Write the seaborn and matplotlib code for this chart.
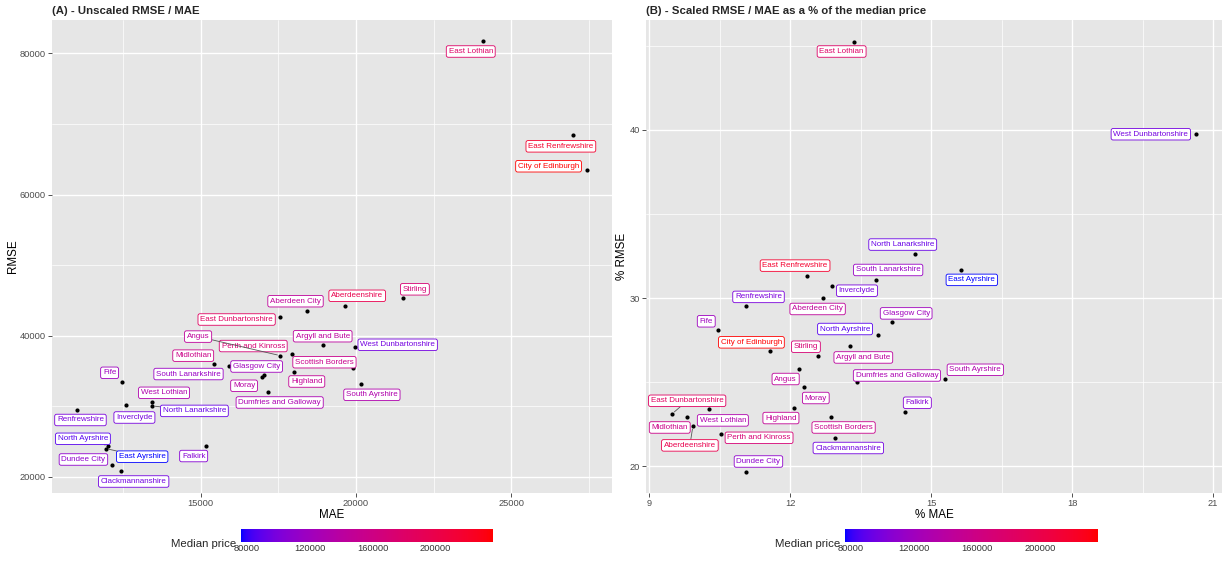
import numpy as np
import pandas as pd
import matplotlib
matplotlib.use("Agg")
import matplotlib.pyplot as plt
import seaborn as sns
from matplotlib.colors import ListedColormap, Normalize
from matplotlib.cm import ScalarMappable

# values
areas = ["East Lothian", "East Renfrewshire", "City of Edinburgh", "Stirling", "Aberdeenshire",
         "Aberdeen City", "East Dunbartonshire", "Argyll and Bute", "West Dunbartonshire",
         "Perth and Kinross", "Angus", "Midlothian", "South Lanarkshire", "Glasgow City", "Moray",
         "Scottish Borders", "Highland", "Fife", "South Ayrshire", "Dumfries and Galloway",
         "West Lothian", "Inverclyde", "North Lanarkshire", "Renfrewshire", "Falkirk",
         "North Ayrshire", "East Ayrshire", "Dundee City", "Clackmannanshire"]
mae = [24080, 26980, 27420, 21510, 19655, 18410, 17545, 18930, 19960,
       17950, 17560, 15440, 15900, 17030, 16980,
       19920, 18000, 12460, 20160, 17160,
       13440, 12615, 13450, 11040, 15165,
       12020, 11965, 12165, 12430]
rmse = [81700, 68400, 63450, 45300, 44240, 43470, 42720, 38650, 38430,
        37400, 37180, 36040, 35700, 34360, 34180,
        35390, 34925, 33465, 33180, 31950,
        30630, 30106, 30050, 29470, 24360,
        24394, 23990, 21602, 20751]
pct_mae = [13.35, 12.36, 11.58, 12.59, 9.93, 12.69, 9.49, 13.28, 20.63,
           10.53, 12.18, 9.80, 13.83, 14.17, 12.29,
           12.86, 12.08, 10.47, 15.30, 13.42,
           10.27, 12.89, 14.65, 11.05, 14.45,
           13.87, 15.63, 11.07, 12.96]
pct_rmse = [45.25, 31.34, 26.84, 26.58, 22.38, 30.01, 23.13, 27.13, 39.74,
            21.94, 25.79, 22.91, 31.08, 28.56, 24.72,
            22.91, 23.47, 28.09, 25.21, 24.99,
            23.39, 30.74, 32.65, 29.54, 23.25,
            27.81, 31.68, 19.70, 21.69]
median_price = [180500, 218300, 236700, 170700, 198000, 145000, 184900, 142500, 96800,
                170400, 144200, 157400, 114900, 120200, 138200,
                154700, 148900, 119100, 131700, 127900,
                130900, 97900, 92000, 99900, 104900,
                87200, 76300, 109800, 95800]

# label placement (pixel offsets from the point, y pointing down)
offsets_a = {
    "East Lothian": (-12, 10), "East Renfrewshire": (-12, 11), "City of Edinburgh": (-38, -4),
    "Stirling": (12, -9), "Aberdeenshire": (12, -10), "Aberdeen City": (-11, -10),
    "East Dunbartonshire": (-43, 3), "Argyll and Bute": (0, -9), "West Dunbartonshire": (43, -2),
    "Perth and Kinross": (-39, -8), "Angus": (-82, -19), "Midlothian": (-21, -8),
    "South Lanarkshire": (-40, 8), "Glasgow City": (-7, -9), "Moray": (-18, 9),
    "Scottish Borders": (-29, -6), "Highland": (13, 10), "Fife": (-12, -9),
    "South Ayrshire": (11, 11), "Dumfries and Galloway": (12, 10), "West Lothian": (12, -9),
    "Inverclyde": (8, 12), "North Lanarkshire": (42, 5), "Renfrewshire": (3, 10),
    "Falkirk": (-12, 10), "North Ayrshire": (-25, -7), "East Ayrshire": (36, 8),
    "Dundee City": (-29, -6), "Clackmannanshire": (13, 10)}
offsets_b = {
    "East Lothian": (-12, 10), "West Dunbartonshire": (-45, 0), "North Lanarkshire": (-12, -9),
    "East Ayrshire": (11, 10), "East Renfrewshire": (-12, -10), "South Lanarkshire": (12, -10),
    "Inverclyde": (25, 5), "Aberdeen City": (-5, 11), "Renfrewshire": (13, -9),
    "Glasgow City": (14, -9), "Fife": (-12, -9), "North Ayrshire": (-33, -6),
    "Argyll and Bute": (13, 11), "City of Edinburgh": (-19, -9), "Stirling": (-12, -9),
    "Angus": (-13, 10), "Dumfries and Galloway": (40, -7), "South Ayrshire": (30, -9),
    "Moray": (12, 11), "Falkirk": (12, -9), "Highland": (-13, 10), "West Lothian": (14, 11),
    "East Dunbartonshire": (15, -13), "Midlothian": (-17, 10), "Scottish Borders": (13, 10),
    "Aberdeenshire": (-3, 19), "Perth and Kinross": (38, 4), "Clackmannanshire": (13, 10),
    "Dundee City": (12, -10)}
segments_a = {"Angus", "North Lanarkshire", "North Ayrshire", "East Ayrshire"}
segments_b = {"East Dunbartonshire", "Aberdeenshire"}


# ggplot-like blue -> red gradient, interpolated in Lab space
M = np.array([[0.4124, 0.3576, 0.1805], [0.2126, 0.7152, 0.0722], [0.0193, 0.1192, 0.9505]])
WHITE = np.array([0.95047, 1.0, 1.08883])


def to_lab(rgb):
    c = np.asarray(rgb, float)
    lin = np.where(c <= 0.04045, c / 12.92, ((c + 0.055) / 1.055) ** 2.4)
    xyz = M @ lin / WHITE
    f = np.where(xyz > 0.008856, np.cbrt(xyz), 7.787 * xyz + 16 / 116)
    return np.array([116 * f[1] - 16, 500 * (f[0] - f[1]), 200 * (f[1] - f[2])])


def from_lab(lab):
    L, a, b = lab
    fy = (L + 16) / 116
    f = np.array([fy + a / 500, fy, fy - b / 200])
    xyz = np.where(f ** 3 > 0.008856, f ** 3, (f - 16 / 116) / 7.787) * WHITE
    lin = np.clip(np.linalg.inv(M) @ xyz, 0, 1)
    c = np.where(lin <= 0.0031308, 12.92 * lin, 1.055 * lin ** (1 / 2.4) - 0.055)
    return np.clip(c, 0, 1)


lo, hi = to_lab([0, 0, 1]), to_lab([1, 0, 0])
cmap = ListedColormap([from_lab(lo + t * (hi - lo)) for t in np.linspace(0, 1, 256)])
norm = Normalize(min(median_price), max(median_price))

sns.set_theme(style="darkgrid", rc={"axes.facecolor": "#E6E6E6", "grid.color": "white"})
plt.rcParams["font.family"] = ["Liberation Sans", "DejaVu Sans"]

fig = plt.figure(figsize=(12.27, 5.61), dpi=100)
W, H = 1227, 561


def panel_axes(x0, x1, y0=20, y1=493):
    return fig.add_axes([x0 / W, 1 - y1 / H, (x1 - x0) / W, (y1 - y0) / H])


def draw_panel(ax, x, y, title, xlabel, ylabel, xticks, yticks, xminor, yminor, offsets, segs):
    df = pd.DataFrame({"area": areas, "x": x, "y": y, "price": median_price})
    sns.scatterplot(data=df, x="x", y="y", color="black", s=9, linewidth=0, ax=ax, zorder=4)
    for row in df.itertuples():
        dx, dy = offsets[row.area]
        col = cmap(norm(row.price))
        arrow = None
        if row.area in segs:
            arrow = dict(arrowstyle="-", color="#555555", lw=0.6, shrinkA=0, shrinkB=2)
        ax.annotate(row.area, (row.x, row.y), xytext=(dx, -dy), textcoords="offset pixels",
                    ha="center", va="center", fontsize=5.8, color=col, zorder=5,
                    bbox=dict(boxstyle="round,pad=0.28,rounding_size=0.25", fc="white", ec=col, lw=0.6),
                    arrowprops=arrow)
    xr = max(x) - min(x)
    yr = max(y) - min(y)
    ax.set_xlim(min(x) - 0.05 * xr, max(x) + 0.05 * xr)
    ax.set_ylim(min(y) - 0.05 * yr, max(y) + 0.05 * yr)
    ax.set_xticks(xticks)
    ax.set_yticks(yticks)
    ax.set_xticks(xminor, minor=True)
    ax.set_yticks(yminor, minor=True)
    ax.set_xticklabels([str(t) for t in xticks])
    ax.set_yticklabels([str(t) for t in yticks])
    ax.grid(which="major", color="white", lw=1.0)
    ax.grid(which="minor", color="white", lw=0.5)
    for s in ax.spines.values():
        s.set_visible(False)
    ax.tick_params(which="major", length=2.8, width=0.6, color="#333333", labelcolor="#4D4D4D",
                   labelsize=6.7, pad=1.5, bottom=True, left=True)
    ax.tick_params(which="minor", length=0)
    ax.set_xlabel(xlabel, fontsize=8.4, labelpad=1, color="black")
    ax.set_ylabel(ylabel, fontsize=8.4, labelpad=1, color="black")
    ax.set_title(title, fontsize=8.2, fontweight="bold", loc="left", pad=4)


def draw_colorbar(x0, x1, title_right):
    cax = fig.add_axes([x0 / W, 1 - 541.7 / H, (x1 - x0) / W, 12.4 / H])
    sm = ScalarMappable(norm=norm, cmap=cmap)
    cb = fig.colorbar(sm, cax=cax, orientation="horizontal", ticks=[80000, 120000, 160000, 200000])
    cb.outline.set_visible(False)
    cax.tick_params(direction="in", color="white", length=2.5, width=0.6, top=True,
                    labelsize=6.7, labelcolor="#333333", pad=2)
    fig.text(title_right / W, 1 - 544 / H, "Median price", ha="right", va="center", fontsize=8.2)


ax_a = panel_axes(52, 612)
draw_panel(ax_a, mae, rmse, "(A) - Unscaled RMSE / MAE", "MAE", "RMSE",
           [15000, 20000, 25000], [20000, 40000, 60000, 80000],
           [12500, 17500, 22500, 27500], [30000, 50000, 70000], offsets_a, segments_a)

ax_b = panel_axes(646, 1222)
draw_panel(ax_b, pct_mae, pct_rmse, "(B) - Scaled RMSE / MAE as a % of the median price", "% MAE", "% RMSE",
           [9, 12, 15, 18, 21], [20, 30, 40],
           [10.5, 13.5, 16.5, 19.5], [25, 35, 45], offsets_b, segments_b)

draw_colorbar(241, 493, 236)
draw_colorbar(845, 1098, 840)

fig.savefig("out.png", dpi=100)
